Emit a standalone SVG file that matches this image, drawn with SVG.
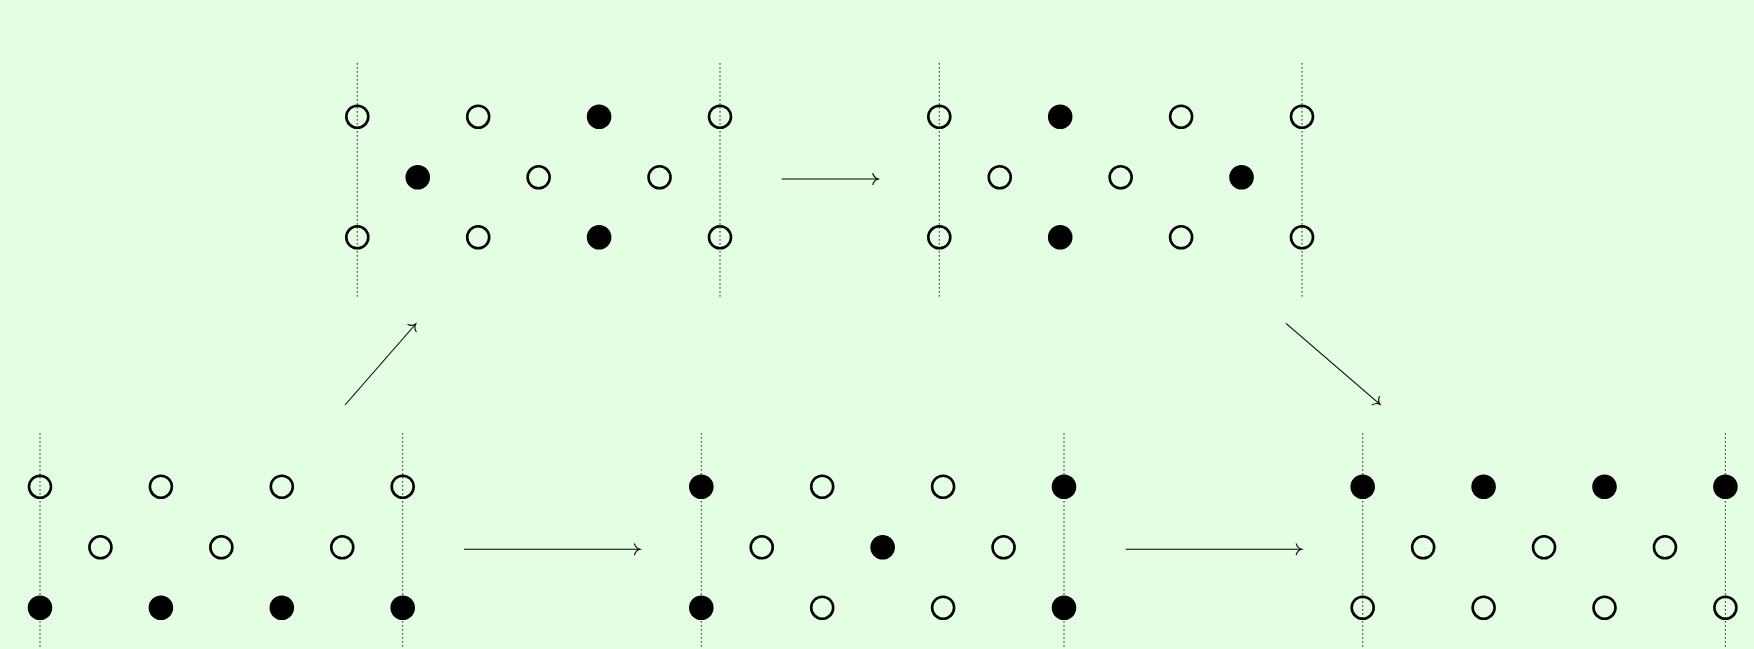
<svg xmlns="http://www.w3.org/2000/svg" width="1754" height="649" viewBox="0 0 1754 649">
<style>
.bg{fill:#e4fee4}
.dot{stroke:#000;stroke-width:1.1;stroke-dasharray:1.1 2.9;fill:none}
.o{fill:none;stroke:#000;stroke-width:2.6}
.f{fill:#000;stroke:#000;stroke-width:2.6}
.arr{stroke:#000;stroke-width:1.1;fill:none;marker-end:url(#to)}
</style>
<defs>
<marker id="to" markerUnits="userSpaceOnUse" viewBox="-8 -8 10 16" refX="0" refY="0" markerWidth="10" markerHeight="16" orient="auto" overflow="visible">
<path d="M-5.5,-5.5 C-4.5,-2 -1.5,-0.4 0,0 C-1.5,0.4 -4.5,2 -5.5,5.5" fill="none" stroke="#000" stroke-width="1.1" stroke-linecap="round"/>
</marker>
</defs>
<rect class="bg" x="0" y="0" width="1754" height="649"/>

<g id="panel-top-left" transform="translate(357.3,0)">
<line class="dot" x1="0" y1="63.3" x2="0" y2="299.3"/>
<line class="dot" x1="362.7" y1="63.3" x2="362.7" y2="299.3"/>
<circle class="o" cx="0" cy="116.7" r="11"/><circle class="o" cx="120.9" cy="116.7" r="11"/><circle class="f" cx="241.8" cy="116.7" r="11"/><circle class="o" cx="362.7" cy="116.7" r="11"/>
<circle class="f" cx="60.45" cy="177.3" r="11"/><circle class="o" cx="181.35" cy="177.3" r="11"/><circle class="o" cx="302.25" cy="177.3" r="11"/>
<circle class="o" cx="0" cy="237.3" r="11"/><circle class="o" cx="120.9" cy="237.3" r="11"/><circle class="f" cx="241.8" cy="237.3" r="11"/><circle class="o" cx="362.7" cy="237.3" r="11"/>
</g>

<g id="panel-top-right" transform="translate(939.3,0)">
<line class="dot" x1="0" y1="63.3" x2="0" y2="299.3"/>
<line class="dot" x1="362.7" y1="63.3" x2="362.7" y2="299.3"/>
<circle class="o" cx="0" cy="116.7" r="11"/><circle class="f" cx="120.9" cy="116.7" r="11"/><circle class="o" cx="241.8" cy="116.7" r="11"/><circle class="o" cx="362.7" cy="116.7" r="11"/>
<circle class="o" cx="60.45" cy="177.3" r="11"/><circle class="o" cx="181.35" cy="177.3" r="11"/><circle class="f" cx="302.25" cy="177.3" r="11"/>
<circle class="o" cx="0" cy="237.3" r="11"/><circle class="f" cx="120.9" cy="237.3" r="11"/><circle class="o" cx="241.8" cy="237.3" r="11"/><circle class="o" cx="362.7" cy="237.3" r="11"/>
</g>

<g id="panel-bottom-left" transform="translate(40,0)">
<line class="dot" x1="0" y1="433.3" x2="0" y2="652"/>
<line class="dot" x1="362.7" y1="433.3" x2="362.7" y2="652"/>
<circle class="o" cx="0" cy="486.7" r="11"/><circle class="o" cx="120.9" cy="486.7" r="11"/><circle class="o" cx="241.8" cy="486.7" r="11"/><circle class="o" cx="362.7" cy="486.7" r="11"/>
<circle class="o" cx="60.45" cy="547.3" r="11"/><circle class="o" cx="181.35" cy="547.3" r="11"/><circle class="o" cx="302.25" cy="547.3" r="11"/>
<circle class="f" cx="0" cy="607.7" r="11"/><circle class="f" cx="120.9" cy="607.7" r="11"/><circle class="f" cx="241.8" cy="607.7" r="11"/><circle class="f" cx="362.7" cy="607.7" r="11"/>
</g>

<g id="panel-bottom-middle" transform="translate(701.3,0)">
<line class="dot" x1="0" y1="433.3" x2="0" y2="652"/>
<line class="dot" x1="362.7" y1="433.3" x2="362.7" y2="652"/>
<circle class="f" cx="0" cy="486.7" r="11"/><circle class="o" cx="120.9" cy="486.7" r="11"/><circle class="o" cx="241.8" cy="486.7" r="11"/><circle class="f" cx="362.7" cy="486.7" r="11"/>
<circle class="o" cx="60.45" cy="547.3" r="11"/><circle class="f" cx="181.35" cy="547.3" r="11"/><circle class="o" cx="302.25" cy="547.3" r="11"/>
<circle class="f" cx="0" cy="607.7" r="11"/><circle class="o" cx="120.9" cy="607.7" r="11"/><circle class="o" cx="241.8" cy="607.7" r="11"/><circle class="f" cx="362.7" cy="607.7" r="11"/>
</g>

<g id="panel-bottom-right" transform="translate(1362.7,0)">
<line class="dot" x1="0" y1="433.3" x2="0" y2="652"/>
<line class="dot" x1="362.7" y1="433.3" x2="362.7" y2="652"/>
<circle class="f" cx="0" cy="486.7" r="11"/><circle class="f" cx="120.9" cy="486.7" r="11"/><circle class="f" cx="241.8" cy="486.7" r="11"/><circle class="f" cx="362.7" cy="486.7" r="11"/>
<circle class="o" cx="60.45" cy="547.3" r="11"/><circle class="o" cx="181.35" cy="547.3" r="11"/><circle class="o" cx="302.25" cy="547.3" r="11"/>
<circle class="o" cx="0" cy="607.7" r="11"/><circle class="o" cx="120.9" cy="607.7" r="11"/><circle class="o" cx="241.8" cy="607.7" r="11"/><circle class="o" cx="362.7" cy="607.7" r="11"/>
</g>

<g id="connectors">
<line class="arr" x1="345" y1="405" x2="415.7" y2="324"/>
<line class="arr" x1="781.7" y1="179" x2="878.3" y2="179"/>
<line class="arr" x1="1286" y1="323.3" x2="1380" y2="404.3"/>
<line class="arr" x1="464" y1="549.3" x2="640" y2="549.3"/>
<line class="arr" x1="1125.7" y1="549.3" x2="1301.7" y2="549.3"/>
</g>
</svg>
